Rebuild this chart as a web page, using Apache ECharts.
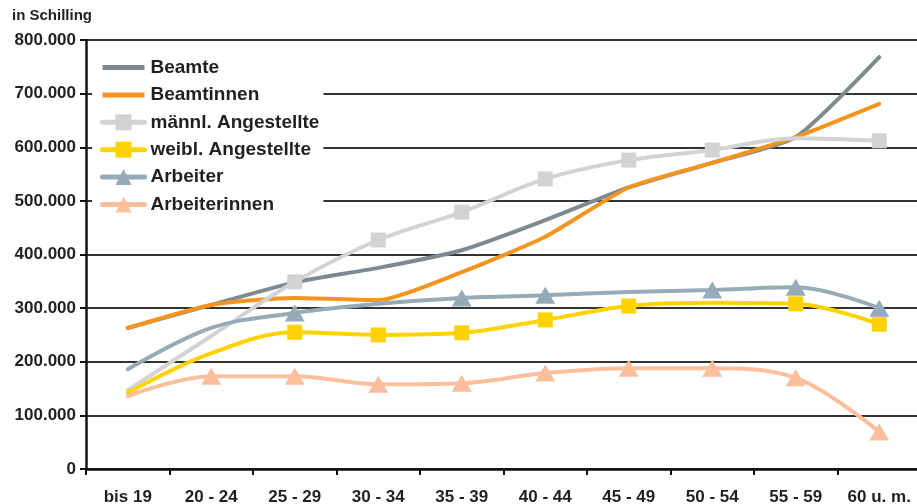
<!DOCTYPE html>
<html>
<head>
<meta charset="utf-8">
<script src="https://cdn.jsdelivr.net/npm/echarts@6/dist/echarts.min.js"></script>
<style>html,body{margin:0;padding:0;background:#fff}#c{width:917px;height:504px}</style>
</head>
<body>
<div id="c"></div>
<script>
var categories = ['bis 19','20 - 24','25 - 29','30 - 34','35 - 39','40 - 44','45 - 49','50 - 54','55 - 59','60 u. m.'];
var yTicks = [0,100000,200000,300000,400000,500000,600000,700000,800000];

var beamte        = [263000,306000,348000,375000,408000,464000,525000,571000,619000,768000];
var beamtinnen    = [263000,306000,319000,315000,367000,433000,525000,571000,619000,681000];
var maennlAng     = [147000,248000,349000,427000,479000,541000,576000,595000,617000,612000];
var weiblAng      = [142000,216000,255000,250000,254000,278000,304000,310000,308000,270000];
var arbeiter      = [186000,263000,291000,308000,319000,324000,330000,334000,339000,300000];
var arbeiterinnen = [136000,173000,173000,158000,160000,179000,188000,188000,170000,69000];

// which points carry a marker (1) in the reference
var maennlMarks   = [0,0,1,1,1,1,1,1,0,1];
var weiblMarks    = [0,0,1,1,1,1,1,0,1,1];
var arbMarks      = [0,0,1,0,1,1,0,1,1,1];
var arbinMarks    = [0,1,1,1,1,1,1,1,1,1];

function withMarks(vals, marks){
  return vals.map(function(v,i){ return marks[i] ? v : {value:v, symbol:'none'}; });
}
function fmt(v){
  if (v === 0) return '0';
  return String(v).replace(/\B(?=(\d{3})+(?!\d))/g, '.');
}

var font = 'Liberation Sans';
var txt = '#231f20';
var chart = echarts.init(document.getElementById('c'), null, {renderer:'canvas'});

function mk(name, data, color, symbol, size, smooth){
  return {
    name: name, type: 'line', data: data, smooth: smooth,
    symbol: symbol, symbolSize: size, showSymbol: true,
    lineStyle: {color: color, width: 4, cap: 'round'},
    itemStyle: {color: color},
    emphasis: {disabled: true}
  };
}
var barIcon = 'path://M0,0L42,0L42,5L0,5Z';

chart.setOption({
  animation: false,
  backgroundColor: '#fff',
  graphic: [{type:'text', left: 12, top: 8, style:{text:'in Schilling', font:'bold 15px ' + font, fill: txt}}],
  grid: {left: 86, top: 40, width: 835, height: 429, containLabel: false, outerBoundsMode: 'none'},
  legend: {
    orient: 'vertical', left: 92, top: 53,
    backgroundColor: '#fff',
    padding: [5, 4, 5, 8],
    itemWidth: 42, itemHeight: 20, itemGap: 8.4,
    lineStyle: {width: 5},
    textStyle: {fontFamily: font, fontWeight: 'bold', fontSize: 19, color: txt, padding: [0,0,0,1]},
    data: [
      {name:'Beamte', icon: barIcon},
      {name:'Beamtinnen', icon: barIcon},
      'männl. Angestellte','weibl. Angestellte','Arbeiter','Arbeiterinnen']
  },
  xAxis: {
    type: 'category', data: categories, boundaryGap: true,
    axisLine: {lineStyle: {color: '#111', width: 2.5}},
    axisTick: {show: true, length: 6, lineStyle: {color: '#111', width: 2}},
    axisLabel: {fontFamily: font, fontWeight: 'bold', fontSize: 17, color: txt, margin: 20, interval: 0}
  },
  yAxis: {
    type: 'value', min: 0, max: 800000, interval: 100000,
    axisLine: {show: true, lineStyle: {color: '#111', width: 2.5}},
    axisTick: {show: true, length: 6, lineStyle: {color: '#111', width: 2}},
    axisLabel: {fontFamily: font, fontWeight: 'bold', fontSize: 17, color: txt, margin: 10, formatter: fmt},
    splitLine: {lineStyle: {color: '#333', width: 1.8}}
  },
  series: [
    mk('Beamte', beamte, '#7d8a91', 'none', 0, 0.2),
    mk('Beamtinnen', beamtinnen, '#f7941d', 'none', 0, 0.2),
    mk('männl. Angestellte', withMarks(maennlAng, maennlMarks), '#d1d3d4', 'rect', 15, 0.35),
    mk('weibl. Angestellte', withMarks(weiblAng, weiblMarks), '#ffd200', 'rect', 15, 0.35),
    mk('Arbeiter', withMarks(arbeiter, arbMarks), '#95abb8', 'triangle', [20,17], 0.35),
    mk('Arbeiterinnen', withMarks(arbeiterinnen, arbinMarks), '#fbbf9c', 'triangle', [20,17], 0.35)
  ]
});
</script>
</body>
</html>
